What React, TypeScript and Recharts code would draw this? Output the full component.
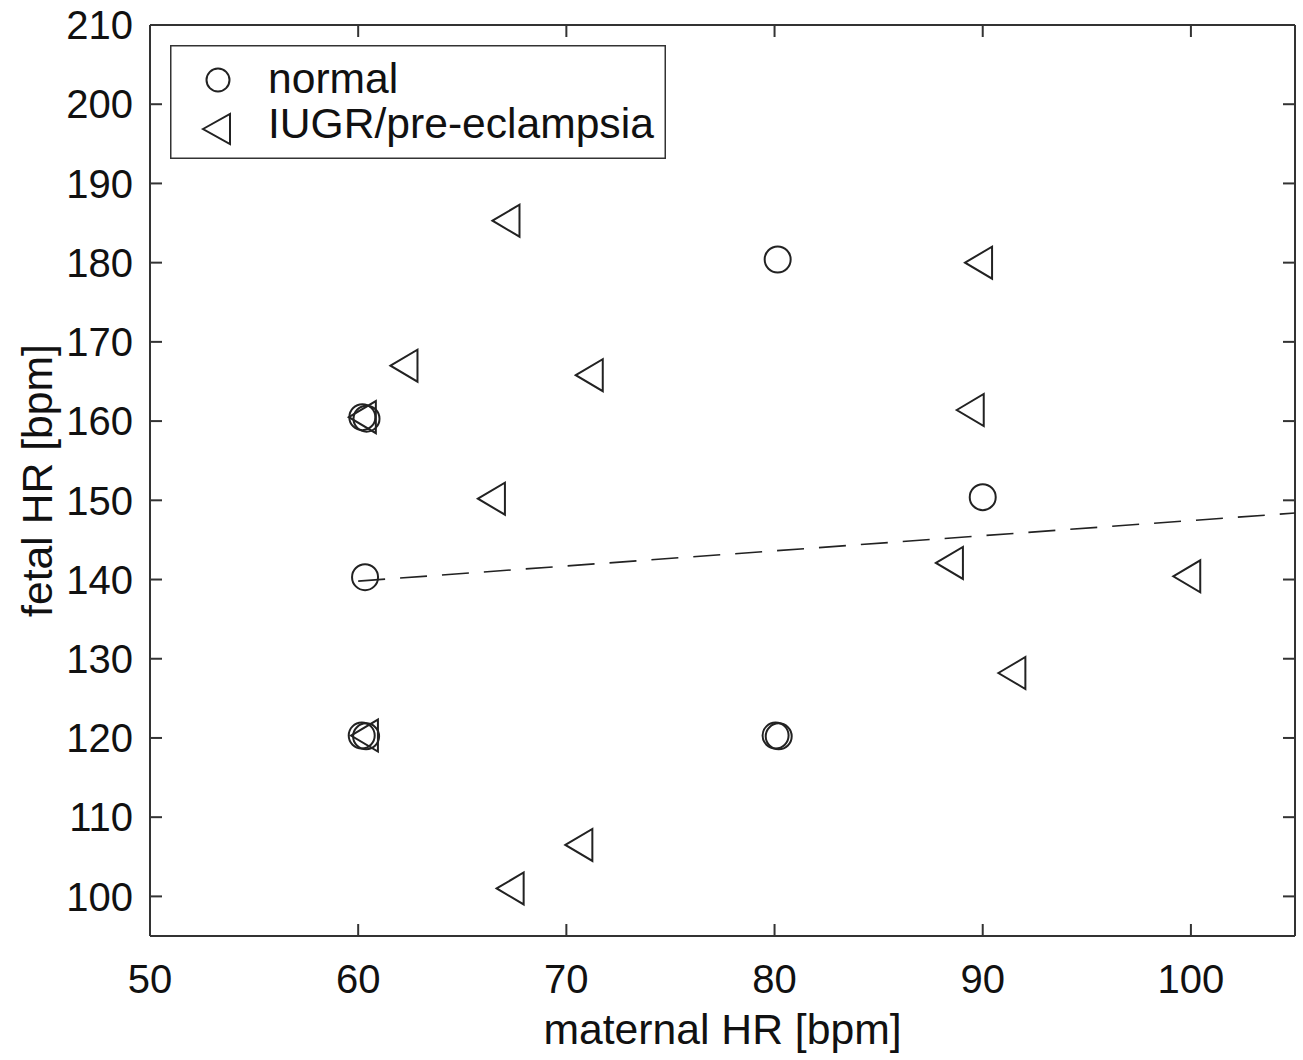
import React from "react";
import {
  ScatterChart,
  Scatter,
  XAxis,
  YAxis,
  Legend,
} from "recharts";

// normal pregnancies
const normalX = [60.2, 60.4, 80.15, 90.0, 60.33, 60.17, 60.38, 80.05, 80.2];
const normalY = [160.5, 160.3, 180.4, 150.4, 140.3, 120.3, 120.2, 120.3, 120.2];

// IUGR / pre-eclampsia
const iugrX = [67.1, 89.8, 62.2, 71.1, 60.2, 89.4, 66.4, 88.4, 99.8, 91.4, 60.3, 70.6, 67.3];
const iugrY = [185.3, 180.0, 167.0, 165.8, 160.5, 161.4, 150.2, 142.1, 140.4, 128.2, 120.3, 106.5, 101.0];

// linear fit (dashed)
const fitX = [60, 105];
const fitY = [139.8, 148.4];

const xTicks = [50, 60, 70, 80, 90, 100];
const yTicks = [100, 110, 120, 130, 140, 150, 160, 170, 180, 190, 200, 210];

const FONT = "'Liberation Sans', Arial, Helvetica, sans-serif";
const INK = "#222";
const AXIS = "#333";

const normal = normalX.map((x, i) => ({ x, y: normalY[i] }));
const iugr = iugrX.map((x, i) => ({ x, y: iugrY[i] }));
const fit = fitX.map((x, i) => ({ x, y: fitY[i] }));

const CircleMark = (props: any) => (
  <circle cx={props.cx} cy={props.cy} r={13} fill="none" stroke={INK} strokeWidth={2} />
);

const TriangleMark = (props: any) => {
  const { cx, cy } = props;
  const pts = `${cx - 13.5},${cy} ${cx + 13.5},${cy - 16} ${cx + 13.5},${cy + 16}`;
  return <polygon points={pts} fill="none" stroke={INK} strokeWidth={2} strokeLinejoin="miter" />;
};

const NoMark = () => null;

const renderLegend = () => (
  <svg width={496} height={114} style={{ display: "block" }}>
    <rect x={0.75} y={0.75} width={494.5} height={112.5} fill="#fff" stroke={AXIS} strokeWidth={1.5} />
    <circle cx={48} cy={35} r={11.5} fill="none" stroke={INK} strokeWidth={2} />
    <text x={98} y={48} fontFamily={FONT} fontSize={42.6} fill="#111">
      normal
    </text>
    <polygon points="33,84 60,69 60,99" fill="none" stroke={INK} strokeWidth={2} />
    <text x={98} y={93} fontFamily={FONT} fontSize={42.6} fill="#111">
      IUGR/pre-eclampsia
    </text>
  </svg>
);

const tickStyle = { fill: "#111", fontSize: 40, fontFamily: FONT };

export default function App() {
  return (
    <div
      style={{
        position: "absolute",
        left: 0,
        top: 0,
        width: 1303,
        height: 1060,
        background: "#fff",
      }}
    >
      <ScatterChart
        width={1303}
        height={1060}
        margin={{ top: 24, right: 7, bottom: 0, left: 0 }}
      >
        <XAxis
          xAxisId="bottom"
          type="number"
          dataKey="x"
          domain={[50, 105]}
          ticks={xTicks}
          allowDataOverflow
          height={124}
          tickSize={-12}
          tickMargin={41}
          tick={tickStyle}
          axisLine={{ stroke: AXIS, strokeWidth: 2 }}
          tickLine={{ stroke: AXIS, strokeWidth: 2 }}
          label={{
            value: "maternal HR [bpm]",
            position: "insideBottom",
            offset: 16,
            style: { fill: "#111", fontSize: 42.7, fontFamily: FONT },
          }}
        />
        <XAxis
          xAxisId="top"
          orientation="top"
          type="number"
          dataKey="x"
          domain={[50, 105]}
          ticks={xTicks}
          allowDataOverflow
          height={1}
          tickSize={-12}
          tickMargin={0}
          tickFormatter={() => ""}
          axisLine={{ stroke: AXIS, strokeWidth: 2 }}
          tickLine={{ stroke: AXIS, strokeWidth: 2 }}
        />
        <YAxis
          yAxisId="left"
          type="number"
          dataKey="y"
          domain={[95, 210]}
          ticks={yTicks}
          allowDataOverflow
          width={150}
          tickSize={-12}
          tickMargin={29}
          tick={tickStyle}
          axisLine={{ stroke: AXIS, strokeWidth: 2 }}
          tickLine={{ stroke: AXIS, strokeWidth: 2 }}
          label={{
            value: "fetal HR [bpm]",
            angle: -90,
            position: "insideLeft",
            offset: 37,
            style: { fill: "#111", fontSize: 42.7, fontFamily: FONT, textAnchor: "middle" },
          }}
        />
        <YAxis
          yAxisId="right"
          orientation="right"
          type="number"
          dataKey="y"
          domain={[95, 210]}
          ticks={yTicks}
          allowDataOverflow
          width={1}
          tickSize={-12}
          tickMargin={0}
          tickFormatter={() => ""}
          axisLine={{ stroke: AXIS, strokeWidth: 2 }}
          tickLine={{ stroke: AXIS, strokeWidth: 2 }}
        />
        <Legend
          layout="vertical"
          align="center"
          verticalAlign="middle"
          content={renderLegend}
          wrapperStyle={{ left: 170, top: 45, width: 496, height: 114 }}
        />
        <Scatter
          name="fit"
          data={fit}
          xAxisId="bottom"
          yAxisId="left"
          line={{ stroke: INK, strokeWidth: 1.6, strokeDasharray: "27 15" }}
          shape={NoMark}
          isAnimationActive={false}
          legendType="none"
        />
        <Scatter
          name="normal"
          data={normal}
          xAxisId="bottom"
          yAxisId="left"
          shape={CircleMark}
          isAnimationActive={false}
        />
        <Scatter
          name="IUGR/pre-eclampsia"
          data={iugr}
          xAxisId="bottom"
          yAxisId="left"
          shape={TriangleMark}
          isAnimationActive={false}
        />
        <Scatter
          data={fit}
          xAxisId="top"
          yAxisId="right"
          shape={NoMark}
          isAnimationActive={false}
          legendType="none"
        />
      </ScatterChart>
    </div>
  );
}
